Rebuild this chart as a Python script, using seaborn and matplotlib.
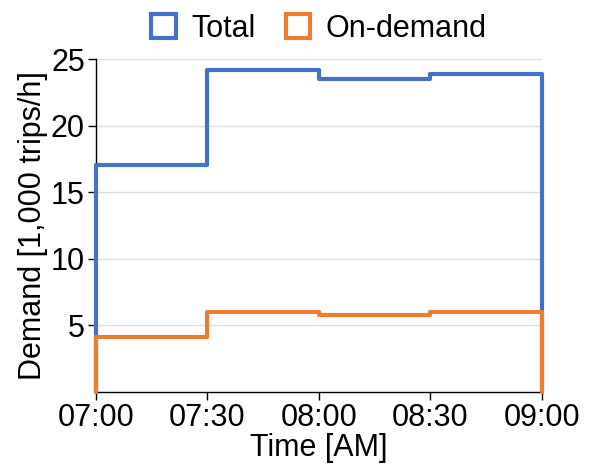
import matplotlib
matplotlib.use("Agg")
import matplotlib.pyplot as plt
import seaborn as sns
import pandas as pd
import numpy as np
from matplotlib.patches import Patch

# Half-hour bins over the morning peak (minutes after 07:00)
bin_edges = [0, 30, 60, 90, 120]
tick_labels = ["07:00", "07:30", "08:00", "08:30", "09:00"]

# Demand per bin, in 1,000 trips/h
total_demand = [17.0, 24.2, 23.5, 23.9]
ondemand_demand = [4.1, 6.0, 5.75, 5.95]

series_names = ["Total", "On-demand"]
colors = {"Total": "#4472C4", "On-demand": "#ED7D31"}

centers = [(a + b) / 2 for a, b in zip(bin_edges[:-1], bin_edges[1:])]
df = pd.DataFrame({
    "minute": centers * 2,
    "demand": total_demand + ondemand_demand,
    "series": ["Total"] * len(centers) + ["On-demand"] * len(centers),
})

sns.set_style("white", {"text.color": "black", "axes.labelcolor": "black",
                        "xtick.color": "black", "ytick.color": "black"})
plt.rcParams["font.family"] = ["Liberation Sans", "DejaVu Sans"]

FS = 22

fig, ax = plt.subplots(figsize=(5.89, 4.65), dpi=100)
fig.subplots_adjust(left=0.163, right=0.92, top=0.873, bottom=0.158)

ax.yaxis.grid(True, color="#e0e0e0", linewidth=1)
ax.set_axisbelow(True)

for name in series_names:
    sub = df[df["series"] == name]
    sns.histplot(data=sub, x="minute", weights="demand", bins=bin_edges,
                 element="step", fill=False, color=colors[name],
                 linewidth=3, ax=ax, zorder=3)
    # close the outline down to the baseline at both outer edges
    line = ax.lines[-1]
    xs = np.asarray(line.get_xdata(), dtype=float)
    ys = np.asarray(line.get_ydata(), dtype=float)
    line.set_data(np.concatenate([[xs[0]], xs, [xs[-1]]]),
                  np.concatenate([[0.0], ys, [0.0]]))
    line.set_clip_on(False)

ax.set_xlim(bin_edges[0], bin_edges[-1])
ax.set_ylim(0, 25)
ax.set_xticks(bin_edges)
ax.set_xticklabels(tick_labels)
ax.set_yticks([5, 10, 15, 20, 25])
ax.tick_params(axis="both", labelsize=FS, length=6, width=1, direction="out",
               colors="black", bottom=True, left=True, pad=2)
ax.set_xlabel("Time [AM]", fontsize=FS, labelpad=0)
ax.set_ylabel("Demand [1,000 trips/h]", fontsize=FS, labelpad=2)

for side in ["top", "right"]:
    ax.spines[side].set_visible(False)
for side in ["left", "bottom"]:
    ax.spines[side].set_color("black")
    ax.spines[side].set_linewidth(1)

handles = [Patch(facecolor="white", edgecolor=colors[n], linewidth=3, label=n)
           for n in series_names]
ax.legend(handles=handles, loc="lower center", bbox_to_anchor=(0.5, 1.0),
          ncol=2, frameon=False, fontsize=FS, handlelength=0.8,
          handleheight=0.8, columnspacing=1.0, handletextpad=0.5,
          borderaxespad=0.1)

fig.savefig("out.png", dpi=100)
